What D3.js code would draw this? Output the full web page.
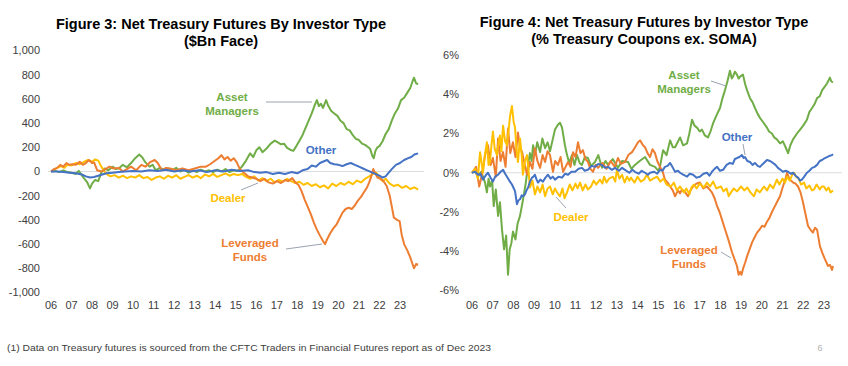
<!DOCTYPE html>
<html><head><meta charset="utf-8">
<script src="https://cdn.jsdelivr.net/npm/d3@7"></script>
<style>
html,body{margin:0;padding:0;background:#fff;}
svg{display:block;}
</style></head>
<body>
<svg id="chart" width="848" height="366"></svg>
<script>
// ---------------- DATA ----------------
const yearLabels = ["06","07","08","09","10","11","12","13","14","15","16","17","18","19","20","21","22","23"];
const fig3Ticks = [1000, 800, 600, 400, 200, 0, -200, -400, -600, -800, -1000];
const fig4Ticks = [6, 4, 2, 0, -2, -4, -6];

// Figure 3 ($Bn face), [year, value]
const fig3AssetManagers = [[2006.0,0],[2006.2,5],[2006.4,-5],[2006.6,10],[2006.8,-5],[2007.0,-10],[2007.2,-20],[2007.35,5],[2007.5,-30],[2007.6,-55],[2007.75,-85],[2007.9,-140],[2008.0,-100],[2008.15,-70],[2008.3,-80],[2008.45,-10],[2008.6,25],[2008.8,10],[2009.0,40],[2009.15,20],[2009.3,25],[2009.5,55],[2009.7,35],[2009.9,70],[2010.1,110],[2010.3,140],[2010.45,115],[2010.6,75],[2010.8,40],[2010.95,55],[2011.1,10],[2011.3,30],[2011.5,15],[2011.7,25],[2011.9,10],[2012.1,30],[2012.3,0],[2012.5,15],[2012.7,-10],[2012.9,10],[2013.1,-5],[2013.3,15],[2013.5,0],[2013.7,10],[2013.9,-5],[2014.1,15],[2014.3,0],[2014.5,20],[2014.7,-5],[2014.9,10],[2015.1,5],[2015.3,40],[2015.5,90],[2015.7,150],[2015.85,120],[2016.0,175],[2016.15,200],[2016.3,160],[2016.5,190],[2016.7,230],[2016.9,255],[2017.05,240],[2017.2,225],[2017.35,230],[2017.5,195],[2017.65,180],[2017.8,170],[2017.95,210],[2018.1,255],[2018.25,300],[2018.4,360],[2018.55,420],[2018.7,480],[2018.85,550],[2018.95,590],[2019.05,540],[2019.15,560],[2019.25,525],[2019.4,590],[2019.5,545],[2019.65,500],[2019.8,480],[2019.95,460],[2020.1,420],[2020.25,400],[2020.4,350],[2020.55,340],[2020.7,300],[2020.85,270],[2021.0,260],[2021.15,230],[2021.3,220],[2021.45,200],[2021.55,185],[2021.65,130],[2021.72,110],[2021.8,170],[2021.9,200],[2022.0,210],[2022.15,250],[2022.3,310],[2022.45,350],[2022.6,420],[2022.75,480],[2022.9,520],[2023.05,590],[2023.2,610],[2023.35,650],[2023.5,690],[2023.6,740],[2023.68,775],[2023.78,730],[2023.88,720]];
const fig3LeveragedFunds = [[2006.0,0],[2006.15,20],[2006.3,30],[2006.45,55],[2006.6,40],[2006.75,70],[2006.9,55],[2007.05,60],[2007.2,55],[2007.4,80],[2007.55,55],[2007.7,70],[2007.85,95],[2008.0,70],[2008.1,75],[2008.25,10],[2008.45,0],[2008.65,20],[2008.85,40],[2009.05,25],[2009.3,30],[2009.5,0],[2009.7,20],[2009.9,40],[2010.15,10],[2010.4,55],[2010.6,40],[2010.85,80],[2011.05,95],[2011.2,70],[2011.4,10],[2011.6,30],[2011.8,25],[2012.1,10],[2012.4,25],[2012.7,10],[2013.0,25],[2013.3,40],[2013.55,40],[2013.75,60],[2013.95,85],[2014.15,110],[2014.3,135],[2014.45,100],[2014.6,120],[2014.75,90],[2014.9,110],[2015.05,75],[2015.2,20],[2015.4,-10],[2015.6,-40],[2015.8,-50],[2016.0,-60],[2016.2,-80],[2016.4,-60],[2016.6,-90],[2016.8,-100],[2017.0,-80],[2017.2,-95],[2017.4,-70],[2017.55,-80],[2017.75,-55],[2017.9,-90],[2018.05,-110],[2018.2,-160],[2018.35,-230],[2018.5,-290],[2018.65,-350],[2018.8,-420],[2018.95,-480],[2019.1,-530],[2019.25,-575],[2019.35,-600],[2019.45,-560],[2019.6,-510],[2019.75,-470],[2019.9,-440],[2020.05,-390],[2020.2,-340],[2020.35,-310],[2020.5,-300],[2020.65,-310],[2020.8,-280],[2020.95,-240],[2021.1,-210],[2021.25,-170],[2021.4,-130],[2021.5,-90],[2021.6,-40],[2021.7,20],[2021.78,-10],[2021.9,-50],[2022.05,-60],[2022.2,-80],[2022.35,-120],[2022.5,-200],[2022.6,-290],[2022.7,-380],[2022.85,-400],[2022.98,-410],[2023.08,-520],[2023.2,-600],[2023.35,-650],[2023.5,-710],[2023.6,-760],[2023.68,-800],[2023.78,-765],[2023.88,-770]];
const fig3Dealer = [[2006.0,0],[2006.15,15],[2006.3,30],[2006.5,45],[2006.65,30],[2006.8,55],[2007.0,50],[2007.2,70],[2007.4,60],[2007.6,80],[2007.8,95],[2008.0,80],[2008.15,100],[2008.3,90],[2008.45,40],[2008.6,0],[2008.75,-25],[2008.9,-40],[2009.1,-30],[2009.3,-50],[2009.5,-35],[2009.7,-55],[2009.9,-40],[2010.1,-50],[2010.3,-30],[2010.5,-55],[2010.7,-45],[2010.9,-70],[2011.1,-50],[2011.3,-40],[2011.5,-60],[2011.7,-35],[2011.9,-50],[2012.1,-30],[2012.3,-60],[2012.5,-45],[2012.7,-30],[2012.9,-50],[2013.1,-35],[2013.3,-55],[2013.5,-25],[2013.7,-40],[2013.9,-20],[2014.1,-45],[2014.3,-30],[2014.5,-15],[2014.7,-35],[2014.9,-20],[2015.1,-30],[2015.3,-20],[2015.5,-45],[2015.7,-60],[2015.9,-40],[2016.1,-75],[2016.3,-55],[2016.5,-80],[2016.7,-60],[2016.9,-90],[2017.1,-70],[2017.3,-85],[2017.5,-60],[2017.7,-80],[2017.9,-95],[2018.1,-85],[2018.3,-110],[2018.5,-95],[2018.7,-120],[2018.9,-105],[2019.1,-130],[2019.3,-115],[2019.5,-140],[2019.7,-100],[2019.9,-120],[2020.1,-95],[2020.3,-110],[2020.5,-85],[2020.7,-105],[2020.9,-75],[2021.1,-90],[2021.3,-60],[2021.5,-40],[2021.7,-20],[2021.85,-10],[2022.0,-50],[2022.15,-80],[2022.3,-60],[2022.5,-100],[2022.7,-120],[2022.9,-110],[2023.1,-135],[2023.3,-120],[2023.5,-145],[2023.7,-130],[2023.88,-150]];
const fig3Other = [[2006.0,0],[2006.3,0],[2006.6,-5],[2006.9,-10],[2007.2,-15],[2007.5,-25],[2007.7,-40],[2007.9,-50],[2008.1,-45],[2008.3,-35],[2008.5,-25],[2008.7,-15],[2009.0,-10],[2009.3,-5],[2009.6,0],[2010.0,5],[2010.4,0],[2010.8,10],[2011.2,5],[2011.6,15],[2012.0,0],[2012.4,10],[2012.8,0],[2013.2,10],[2013.6,-5],[2014.0,10],[2014.4,0],[2014.8,15],[2015.2,5],[2015.6,10],[2015.9,-5],[2016.2,-10],[2016.5,-5],[2016.8,-20],[2017.1,-10],[2017.4,-20],[2017.7,-5],[2018.0,-15],[2018.25,10],[2018.5,20],[2018.7,50],[2018.9,40],[2019.1,70],[2019.3,85],[2019.45,95],[2019.6,70],[2019.8,60],[2020.0,55],[2020.2,45],[2020.4,60],[2020.6,70],[2020.8,55],[2021.0,40],[2021.2,25],[2021.4,10],[2021.6,-5],[2021.8,-20],[2022.0,-35],[2022.15,-50],[2022.3,-40],[2022.45,-10],[2022.6,20],[2022.8,55],[2023.0,70],[2023.2,95],[2023.4,110],[2023.55,120],[2023.7,140],[2023.88,150]];

// Figure 4 (% Treasury coupons ex. SOMA), [year, value]
const fig4AssetManagers = [[2006.0,0],[2006.15,0.1],[2006.29,-0.2],[2006.45,0.05],[2006.63,-0.5],[2006.72,-1.0],[2006.8,-0.3],[2006.87,-0.7],[2006.97,-0.4],[2007.05,-1.7],[2007.15,-0.85],[2007.26,-2.2],[2007.35,-1.5],[2007.45,-2.9],[2007.55,-3.9],[2007.65,-3.2],[2007.74,-5.2],[2007.82,-3.9],[2007.9,-3.6],[2007.98,-3.0],[2008.1,-3.4],[2008.2,-2.6],[2008.32,-2.2],[2008.46,-1.4],[2008.6,-0.5],[2008.72,0.5],[2008.8,1.0],[2008.88,0.6],[2008.95,1.4],[2009.04,0.9],[2009.15,1.55],[2009.29,1.05],[2009.4,1.75],[2009.53,1.25],[2009.65,1.55],[2009.77,1.1],[2009.9,1.7],[2010.01,2.2],[2010.15,2.45],[2010.25,2.55],[2010.35,2.3],[2010.49,1.4],[2010.59,0.9],[2010.7,0.5],[2010.83,0.9],[2010.95,0.4],[2011.07,0.9],[2011.2,0.5],[2011.31,0.4],[2011.45,0.8],[2011.6,0.75],[2011.75,0.35],[2011.94,0.55],[2012.1,0.9],[2012.28,0.25],[2012.45,0.6],[2012.57,0.4],[2012.8,0.7],[2013.05,0.25],[2013.25,0.6],[2013.54,0.55],[2013.7,0.2],[2013.87,0.4],[2014.1,0.6],[2014.36,0.8],[2014.6,0.4],[2014.84,0.3],[2015.0,0.1],[2015.08,0.3],[2015.23,1.15],[2015.4,0.9],[2015.57,1.65],[2015.7,1.3],[2015.81,1.3],[2016.05,1.8],[2016.2,1.4],[2016.39,1.5],[2016.5,2.0],[2016.63,2.7],[2016.75,2.4],[2016.87,2.3],[2017.0,2.1],[2017.11,2.2],[2017.25,1.9],[2017.4,1.8],[2017.52,2.1],[2017.64,2.5],[2017.8,2.9],[2017.98,3.3],[2018.1,3.8],[2018.22,4.2],[2018.35,4.7],[2018.46,5.2],[2018.55,4.8],[2018.61,4.9],[2018.7,5.15],[2018.8,5.0],[2018.88,4.8],[2018.95,4.9],[2019.09,5.0],[2019.2,4.5],[2019.29,4.2],[2019.43,3.8],[2019.55,3.6],[2019.67,3.3],[2019.8,3.0],[2019.91,2.8],[2020.05,2.6],[2020.25,2.3],[2020.35,2.1],[2020.49,2.0],[2020.6,1.8],[2020.73,1.7],[2020.88,1.5],[2021.02,1.6],[2021.15,1.3],[2021.27,1.0],[2021.38,1.4],[2021.51,1.7],[2021.7,2.0],[2021.85,2.2],[2022.0,2.4],[2022.18,2.7],[2022.3,3.1],[2022.43,3.3],[2022.55,3.5],[2022.67,3.8],[2022.8,3.9],[2022.91,4.2],[2023.05,4.4],[2023.15,4.55],[2023.29,4.85],[2023.36,4.65],[2023.44,4.6]];
const fig4LeveragedFunds = [[2006.0,0],[2006.2,0.3],[2006.35,-0.7],[2006.48,-0.1],[2006.63,0.9],[2006.77,1.4],[2006.9,0.4],[2007.01,0.75],[2007.15,-0.2],[2007.26,1.75],[2007.38,0.6],[2007.5,1.05],[2007.62,0.3],[2007.74,2.25],[2007.85,1.0],[2007.98,1.55],[2008.1,0.8],[2008.22,2.05],[2008.32,1.3],[2008.42,1.05],[2008.55,0.4],[2008.66,-0.1],[2008.8,0.55],[2008.92,0.2],[2009.04,1.25],[2009.16,0.6],[2009.29,0.25],[2009.41,0.9],[2009.53,0.55],[2009.65,1.1],[2009.77,0.9],[2009.91,0.05],[2010.02,0.6],[2010.15,0.4],[2010.28,0.8],[2010.4,0.05],[2010.52,0.3],[2010.64,0.55],[2010.76,0.3],[2010.88,1.05],[2011.0,0.8],[2011.12,1.55],[2011.24,1.0],[2011.36,1.15],[2011.48,0.7],[2011.6,0.55],[2011.72,0.2],[2011.85,0.05],[2011.97,0.4],[2012.09,0.25],[2012.3,0.5],[2012.5,0.2],[2012.7,0.6],[2012.9,0.3],[2013.05,0.75],[2013.2,0.45],[2013.39,0.55],[2013.55,0.9],[2013.73,1.05],[2013.88,1.3],[2014.02,1.55],[2014.12,1.65],[2014.26,1.4],[2014.36,1.3],[2014.48,1.0],[2014.6,0.8],[2014.72,1.2],[2014.84,1.0],[2014.95,0.6],[2015.08,0.3],[2015.2,0.1],[2015.32,-0.35],[2015.45,-0.5],[2015.57,-0.7],[2015.7,-0.9],[2015.81,-1.2],[2015.95,-0.9],[2016.05,-1.05],[2016.14,-0.85],[2016.3,-1.0],[2016.43,-1.2],[2016.55,-0.9],[2016.68,-0.7],[2016.85,-0.55],[2017.01,-0.5],[2017.18,-0.8],[2017.35,-0.7],[2017.47,-0.85],[2017.59,-1.0],[2017.72,-1.3],[2017.84,-1.7],[2017.96,-2.0],[2018.08,-2.4],[2018.2,-2.8],[2018.32,-3.2],[2018.44,-3.6],[2018.56,-4.05],[2018.68,-4.4],[2018.8,-4.75],[2018.88,-5.2],[2018.95,-5.05],[2019.02,-5.2],[2019.09,-4.9],[2019.19,-4.6],[2019.29,-4.25],[2019.41,-3.9],[2019.53,-3.55],[2019.65,-3.3],[2019.77,-3.05],[2019.89,-2.9],[2020.01,-2.7],[2020.13,-2.75],[2020.25,-2.5],[2020.37,-2.3],[2020.49,-2.0],[2020.61,-1.75],[2020.73,-1.5],[2020.88,-1.2],[2021.02,-0.7],[2021.12,-0.4],[2021.22,0.0],[2021.29,-0.2],[2021.36,-0.35],[2021.51,-0.5],[2021.63,-0.55],[2021.75,-0.7],[2021.87,-1.0],[2021.99,-1.5],[2022.11,-2.1],[2022.23,-2.7],[2022.35,-2.9],[2022.47,-3.05],[2022.57,-2.8],[2022.67,-2.9],[2022.81,-3.75],[2022.93,-4.1],[2023.05,-4.4],[2023.2,-4.75],[2023.3,-4.7],[2023.39,-4.95],[2023.44,-4.75]];
const fig4Dealer = [[2006.0,0],[2006.15,0.2],[2006.28,-0.3],[2006.39,1.05],[2006.53,0.0],[2006.62,0.9],[2006.72,1.55],[2006.8,0.4],[2006.87,0.55],[2006.94,1.4],[2007.01,2.1],[2007.1,1.2],[2007.21,0.9],[2007.3,1.7],[2007.35,1.9],[2007.42,1.1],[2007.5,2.4],[2007.6,1.6],[2007.69,1.4],[2007.77,2.2],[2007.84,2.9],[2007.93,3.4],[2008.01,2.6],[2008.08,2.3],[2008.15,1.2],[2008.22,0.55],[2008.32,1.75],[2008.4,0.9],[2008.46,-0.1],[2008.56,0.6],[2008.66,0.9],[2008.73,0.1],[2008.8,-0.75],[2008.92,-0.4],[2009.04,-1.1],[2009.16,-0.7],[2009.29,-1.0],[2009.41,-0.6],[2009.53,-1.2],[2009.65,-0.8],[2009.77,-0.7],[2009.9,-1.1],[2010.01,-0.8],[2010.11,-1.0],[2010.25,-1.2],[2010.37,-0.8],[2010.47,-1.3],[2010.59,-1.0],[2010.72,-0.6],[2010.85,-0.9],[2011.0,-0.55],[2011.1,-0.8],[2011.22,-0.5],[2011.35,-0.9],[2011.48,-0.6],[2011.6,-0.85],[2011.75,-0.7],[2011.88,-0.4],[2012.0,-0.6],[2012.18,-0.35],[2012.3,-0.55],[2012.38,-0.2],[2012.5,-0.5],[2012.62,-0.3],[2012.81,-0.2],[2012.92,-0.45],[2013.0,0.15],[2013.12,-0.3],[2013.25,-0.1],[2013.37,-0.5],[2013.49,-0.2],[2013.6,-0.4],[2013.68,-0.25],[2013.85,-0.5],[2014.0,-0.2],[2014.15,-0.45],[2014.31,-0.35],[2014.45,-0.1],[2014.6,-0.4],[2014.75,-0.3],[2014.94,-0.2],[2015.1,-0.45],[2015.25,-0.3],[2015.4,-0.6],[2015.61,-0.7],[2015.75,-0.5],[2015.9,-0.9],[2016.05,-0.7],[2016.24,-1.0],[2016.35,-0.8],[2016.5,-1.1],[2016.6,-0.75],[2016.72,-0.6],[2016.85,-0.8],[2017.0,-0.55],[2017.2,-0.75],[2017.35,-0.5],[2017.5,-0.7],[2017.65,-0.45],[2017.8,-0.8],[2018.03,-0.7],[2018.15,-0.95],[2018.3,-0.8],[2018.4,-1.2],[2018.51,-1.0],[2018.65,-0.8],[2018.8,-0.95],[2019.0,-0.7],[2019.15,-0.9],[2019.3,-0.75],[2019.45,-1.0],[2019.62,-1.2],[2019.75,-0.85],[2019.9,-1.0],[2020.11,-0.7],[2020.25,-0.9],[2020.4,-0.6],[2020.55,-0.8],[2020.73,-0.35],[2020.85,-0.6],[2021.0,-0.3],[2021.12,-0.5],[2021.22,-0.2],[2021.35,-0.4],[2021.47,-0.1],[2021.56,0.0],[2021.65,-0.2],[2021.78,-0.3],[2021.9,-0.6],[2022.04,-0.5],[2022.15,-0.8],[2022.3,-0.65],[2022.42,-0.9],[2022.52,-0.85],[2022.65,-0.6],[2022.8,-0.85],[2022.9,-0.7],[2023.0,-0.7],[2023.12,-0.9],[2023.22,-0.75],[2023.32,-1.0],[2023.39,-0.95],[2023.44,-0.9]];
const fig4Other = [[2006.0,0],[2006.15,0.05],[2006.29,-0.1],[2006.4,-0.05],[2006.53,-0.35],[2006.65,-0.15],[2006.77,0.0],[2006.9,-0.25],[2007.01,-0.45],[2007.12,-0.2],[2007.26,-0.1],[2007.38,0.05],[2007.5,0.15],[2007.6,-0.05],[2007.69,-0.2],[2007.8,-0.4],[2007.93,-0.6],[2008.02,-0.8],[2008.08,-0.95],[2008.13,-1.3],[2008.17,-1.6],[2008.25,-1.4],[2008.32,-1.35],[2008.4,-1.15],[2008.46,-1.2],[2008.56,-1.1],[2008.63,-0.9],[2008.71,-0.75],[2008.8,-0.45],[2008.9,-0.25],[2008.97,-0.2],[2009.04,-0.1],[2009.12,-0.35],[2009.19,-0.5],[2009.3,-0.35],[2009.43,-0.45],[2009.55,-0.25],[2009.67,-0.1],[2009.8,-0.3],[2009.9,-0.2],[2010.01,-0.35],[2010.18,-0.2],[2010.35,-0.25],[2010.5,-0.05],[2010.64,-0.1],[2010.8,0.05],[2010.98,0.05],[2011.15,0.2],[2011.31,0.25],[2011.45,0.1],[2011.6,0.15],[2011.78,0.35],[2011.94,0.3],[2012.1,0.45],[2012.28,0.4],[2012.43,0.25],[2012.57,0.3],[2012.75,0.15],[2012.91,0.25],[2013.1,0.1],[2013.25,0.25],[2013.39,0.15],[2013.6,0.0],[2013.75,0.15],[2013.87,0.05],[2014.05,-0.05],[2014.2,0.1],[2014.36,0.0],[2014.5,-0.1],[2014.6,0.0],[2014.8,0.05],[2014.95,-0.05],[2015.08,0.15],[2015.2,0.1],[2015.32,0.3],[2015.45,0.35],[2015.57,0.5],[2015.68,0.3],[2015.81,0.05],[2015.95,0.1],[2016.05,0.0],[2016.2,-0.1],[2016.39,-0.2],[2016.52,-0.05],[2016.68,-0.1],[2016.85,-0.25],[2017.01,-0.2],[2017.18,-0.05],[2017.35,0.0],[2017.47,-0.15],[2017.59,0.05],[2017.72,0.2],[2017.84,0.3],[2017.98,0.1],[2018.13,0.15],[2018.3,0.4],[2018.46,0.5],[2018.6,0.45],[2018.7,0.7],[2018.8,0.75],[2018.92,0.8],[2019.04,0.9],[2019.12,0.75],[2019.19,0.8],[2019.3,0.6],[2019.43,0.55],[2019.55,0.4],[2019.67,0.5],[2019.8,0.35],[2019.91,0.3],[2020.05,0.45],[2020.15,0.55],[2020.25,0.65],[2020.4,0.6],[2020.54,0.5],[2020.66,0.4],[2020.78,0.25],[2020.9,0.15],[2021.02,0.05],[2021.15,0.1],[2021.27,0.05],[2021.4,-0.05],[2021.51,0.0],[2021.63,-0.15],[2021.75,-0.25],[2021.85,-0.4],[2021.94,-0.35],[2022.05,-0.2],[2022.18,0.0],[2022.3,0.1],[2022.43,0.25],[2022.55,0.3],[2022.67,0.4],[2022.8,0.6],[2022.91,0.65],[2023.05,0.75],[2023.15,0.8],[2023.25,0.85],[2023.39,0.9],[2023.44,0.95]];

const seriesColors = {"Asset Managers":"#70AD47", "Dealer":"#FFC000", "Leveraged Funds":"#ED7D31", "Other":"#4472C4"};

// ---------------- DRAW ----------------
const svg = d3.select("#chart");
const FONT = "'Liberation Sans', Arial, Helvetica, sans-serif";

function drawPanel(cfg) {
  const g = svg.append("g");
  const x = d3.scaleLinear().domain([2006, 2024]).range(cfg.xRange);
  const y = d3.scaleLinear().domain(cfg.yDomain).range(cfg.yRange);

  cfg.title.forEach((t, i) => {
    g.append("text").attr("x", cfg.titleX).attr("y", cfg.titleY + i * 16.5)
      .attr("text-anchor", "middle").attr("font-family", FONT).attr("font-weight", "bold")
      .attr("font-size", 14.5).attr("fill", "#000").text(t);
  });

  cfg.ticks.forEach(v => {
    g.append("text").attr("x", cfg.yLabelX).attr("y", y(v)).attr("dy", "0.35em")
      .attr("text-anchor", "end").attr("font-family", FONT).attr("font-size", 11)
      .attr("fill", "#404040").text(cfg.fmt(v));
  });

  yearLabels.forEach((lab, i) => {
    g.append("text").attr("x", x(2006 + i)).attr("y", cfg.xLabelY)
      .attr("text-anchor", "middle").attr("font-family", FONT).attr("font-size", 11)
      .attr("fill", "#404040").text(lab);
  });

  g.append("line").attr("x1", x(2006) - 3).attr("x2", cfg.zeroEnd)
    .attr("y1", y(0)).attr("y2", y(0)).attr("stroke", "#dcdcdc").attr("stroke-width", 1);

  const line = d3.line().x(d => x(d[0])).y(d => y(d[1]));
  cfg.series.forEach(s => {
    g.append("path").datum(s.data).attr("d", line).attr("fill", "none")
      .attr("stroke", seriesColors[s.name]).attr("stroke-width", 2)
      .attr("stroke-linejoin", "round");
  });

  cfg.leaders.forEach(l => {
    g.append("line").attr("x1", l[0]).attr("y1", l[1]).attr("x2", l[2]).attr("y2", l[3])
      .attr("stroke", "#9aa3b0").attr("stroke-width", 1);
  });
  cfg.labels.forEach(l => {
    l.lines.forEach((t, i) => {
      g.append("text").attr("x", l.x).attr("y", l.y + i * 14).attr("text-anchor", "middle")
        .attr("font-family", FONT).attr("font-weight", "bold").attr("font-size", cfg.labelSize)
        .attr("fill", seriesColors[l.name]).text(t);
    });
  });
}

const fmtBn = v => (v < 0 ? "-" : "") + d3.format(",")(Math.abs(v));
const fmtPct = v => (v < 0 ? "-" : "") + Math.abs(v) + "%";

drawPanel({
  xRange: [51, 51 + 18 * 20.53], yDomain: [-1000, 1000], yRange: [292.5, 50.5],
  title: ["Figure 3: Net Treasury Futures By Investor Type", "($Bn Face)"], titleX: 221, titleY: 29,
  ticks: fig3Ticks, fmt: fmtBn, yLabelX: 40, xLabelY: 309, zeroEnd: 424, labelSize: 11.5,
  series: [
    {name: "Asset Managers", data: fig3AssetManagers},
    {name: "Dealer", data: fig3Dealer},
    {name: "Leveraged Funds", data: fig3LeveragedFunds},
    {name: "Other", data: fig3Other}
  ],
  leaders: [[266, 102, 312, 102], [241, 190, 258, 183], [286, 249, 322, 244]],
  labels: [
    {name: "Asset Managers", lines: ["Asset", "Managers"], x: 232, y: 101},
    {name: "Other", lines: ["Other"], x: 321, y: 154},
    {name: "Dealer", lines: ["Dealer"], x: 228, y: 202},
    {name: "Leveraged Funds", lines: ["Leveraged", "Funds"], x: 250, y: 247}
  ]
});

drawPanel({
  xRange: [472, 472 + 18 * 20.7], yDomain: [-6, 6], yRange: [290.5, 55],
  title: ["Figure 4: Net Treasury Futures by Investor Type", "(% Treasury Coupons ex. SOMA)"], titleX: 644, titleY: 27,
  ticks: fig4Ticks, fmt: fmtPct, yLabelX: 459, xLabelY: 309, zeroEnd: 842, labelSize: 11.5,
  series: [
    {name: "Asset Managers", data: fig4AssetManagers},
    {name: "Leveraged Funds", data: fig4LeveragedFunds},
    {name: "Dealer", data: fig4Dealer},
    {name: "Other", data: fig4Other}
  ],
  leaders: [[711, 81, 726, 86], [743, 144, 745, 155], [566, 208, 556, 197], [721, 252, 731, 258]],
  labels: [
    {name: "Asset Managers", lines: ["Asset", "Managers"], x: 684, y: 79},
    {name: "Other", lines: ["Other"], x: 737, y: 141},
    {name: "Dealer", lines: ["Dealer"], x: 571, y: 221},
    {name: "Leveraged Funds", lines: ["Leveraged", "Funds"], x: 689, y: 254}
  ]
});

svg.append("text").attr("x", 7).attr("y", 351).attr("font-family", "'Liberation Sans Narrow', 'Liberation Sans', Arial, sans-serif")
  .attr("font-size", 9.5).attr("fill", "#404040").attr("textLength", 484).attr("lengthAdjust", "spacingAndGlyphs")
  .text("(1) Data on Treasury futures is sourced from the CFTC Traders in Financial Futures report as of Dec 2023");
svg.append("text").attr("x", 820).attr("y", 351).attr("text-anchor", "middle").attr("font-family", FONT)
  .attr("font-size", 9).attr("fill", "#b0b0b0").text("6");
</script>
</body></html>
